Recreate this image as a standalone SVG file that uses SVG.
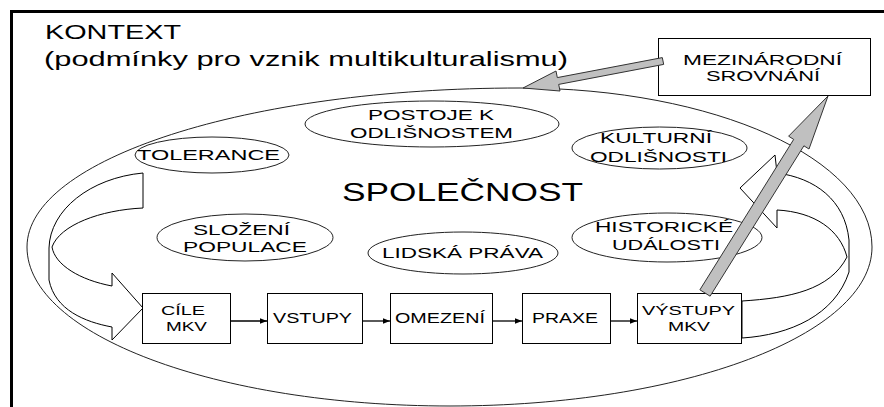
<svg xmlns="http://www.w3.org/2000/svg" width="884" height="407" viewBox="0 0 884 407">
<defs>
<style>
.t{font-family:"Liberation Sans",Arial,sans-serif;fill:#000;text-anchor:middle;font-size:15px}
.s{text-anchor:start}
.e{fill:none;stroke:#222;stroke-width:1}
.b{fill:#fff;stroke:#000;stroke-width:1}
.g{fill:#c0c0c0;stroke:#333;stroke-width:1}
.c{stroke:#000;stroke-width:1.3;fill:none;marker-end:url(#ah)}
</style>
<marker id="ah" viewBox="0 0 10 10" refX="10" refY="5" markerWidth="8" markerHeight="7" markerUnits="userSpaceOnUse" orient="auto"><path d="M0,1 L10,5 L0,9 Z" fill="#000"/></marker>
</defs>
<rect width="884" height="407" fill="#fff"/>
<path d="M10,11.5 H884 M11.5,10 V407" stroke="#000" stroke-width="3" fill="none"/>

<g id="context">
<text class="t s" x="45" y="39" style="font-size:20px" textLength="136" lengthAdjust="spacingAndGlyphs">KONTEXT</text>
<text class="t s" x="44" y="66" style="font-size:21px" textLength="524" lengthAdjust="spacingAndGlyphs">(podmínky pro vznik multikulturalismu)</text>
</g>

<g id="spolecnost">
<path class="e" d="M27,247 C27,159 247.7,88 520,88 C714.4,88 872,159 872,247 C872,334.8 683,406 450,406 C216.4,406 27,334.8 27,247 Z"/>
<text class="t" x="462.5" y="201" style="font-size:25px" textLength="241" lengthAdjust="spacingAndGlyphs">SPOLEČNOST</text>
</g>

<g id="postoje">
<ellipse class="e" cx="432" cy="124" rx="127" ry="23"/>
<text class="t" x="431" y="120" textLength="126" lengthAdjust="spacingAndGlyphs">POSTOJE K</text>
<text class="t" x="431.5" y="138" textLength="163" lengthAdjust="spacingAndGlyphs">ODLIŠNOSTEM</text>
</g>

<g id="tolerance">
<ellipse class="e" cx="212" cy="155" rx="77" ry="18"/>
<text class="t" x="208.5" y="160" textLength="143" lengthAdjust="spacingAndGlyphs">TOLERANCE</text>
</g>

<g id="kulturni">
<ellipse class="e" cx="659.5" cy="148" rx="87.5" ry="21"/>
<text class="t" x="656" y="143" textLength="112" lengthAdjust="spacingAndGlyphs">KULTURNÍ</text>
<text class="t" x="658.5" y="162" textLength="137" lengthAdjust="spacingAndGlyphs">ODLIŠNOSTI</text>
</g>

<g id="slozeni">
<ellipse class="e" cx="245" cy="237.5" rx="88" ry="23.5"/>
<text class="t" x="241.5" y="235" textLength="97" lengthAdjust="spacingAndGlyphs">SLOŽENÍ</text>
<text class="t" x="245" y="252" textLength="124" lengthAdjust="spacingAndGlyphs">POPULACE</text>
</g>

<g id="lidska">
<ellipse class="e" cx="463" cy="253" rx="95" ry="21"/>
<text class="t" x="462.5" y="258" textLength="161" lengthAdjust="spacingAndGlyphs">LIDSKÁ PRÁVA</text>
</g>

<g id="historicke">
<ellipse class="e" cx="667" cy="237.5" rx="95" ry="24.5"/>
<text class="t" x="664" y="232" textLength="138" lengthAdjust="spacingAndGlyphs">HISTORICKÉ</text>
<text class="t" x="666" y="250" textLength="108" lengthAdjust="spacingAndGlyphs">UDÁLOSTI</text>
</g>

<g id="mezinarodni">
<rect class="b" x="658.5" y="38.5" width="212" height="57"/>
<text class="t" x="762.5" y="64.5" style="font-size:14px" textLength="159" lengthAdjust="spacingAndGlyphs">MEZINÁRODNÍ</text>
<text class="t" x="763" y="81" style="font-size:14px" textLength="114" lengthAdjust="spacingAndGlyphs">SROVNÁNÍ</text>
</g>

<g id="loop-arrows">
<path class="b" d="M143,173 C90,178 50,210 49,248 L49,280 C55,310 85,322 112,327 L112,340 L143,308 L112,273 L112,286 C80,280 55,265 52,247 C60,225 100,210 143,208 Z"/>
<path class="b" d="M742,301 C790,298 830,290 847,257 C840,230 815,212 777,210 L777,228 L740,188 L775,155 L777,173 C815,178 845,200 849,240 L849,272 C835,315 790,335 742,338 Z"/>
</g>

<g id="cile">
<rect class="b" x="142.5" y="293.5" width="88" height="50"/>
<text class="t" x="183" y="314.5" style="font-size:13.5px" textLength="44" lengthAdjust="spacingAndGlyphs">CÍLE</text>
<text class="t" x="186.5" y="330.5" style="font-size:13.5px" textLength="41" lengthAdjust="spacingAndGlyphs">MKV</text>
</g>
<g id="vstupy">
<rect class="b" x="267.5" y="293.5" width="95" height="50"/>
<text class="t" x="312.5" y="323" textLength="79" lengthAdjust="spacingAndGlyphs">VSTUPY</text>
</g>
<g id="omezeni">
<rect class="b" x="390.5" y="293.5" width="102" height="50"/>
<text class="t" x="440" y="323" textLength="90" lengthAdjust="spacingAndGlyphs">OMEZENÍ</text>
</g>
<g id="praxe">
<rect class="b" x="522.5" y="293.5" width="88" height="50"/>
<text class="t" x="565" y="323" textLength="66" lengthAdjust="spacingAndGlyphs">PRAXE</text>
</g>
<g id="vystupy">
<rect class="b" x="637.5" y="293.5" width="104" height="50"/>
<text class="t" x="688.5" y="314.5" style="font-size:13.5px" textLength="93" lengthAdjust="spacingAndGlyphs">VÝSTUPY</text>
<text class="t" x="689" y="330.5" style="font-size:13.5px" textLength="42" lengthAdjust="spacingAndGlyphs">MKV</text>
</g>

<g id="connectors">
<line class="c" x1="231" y1="321" x2="267" y2="321"/>
<line class="c" x1="363" y1="321" x2="390" y2="321"/>
<line class="c" x1="493" y1="321" x2="522" y2="321"/>
<line class="c" x1="611" y1="321" x2="637" y2="321"/>
<polygon class="g" points="662.3,57.6 557.3,77.6 556,71 523,88 560,91 558.7,84.4 663.7,64.4"/>
<polygon class="g" points="699.9,289.8 793.7,139.4 788.6,136.2 828,96 809,149 803.9,145.8 710.1,296.2"/>
</g>
</svg>
